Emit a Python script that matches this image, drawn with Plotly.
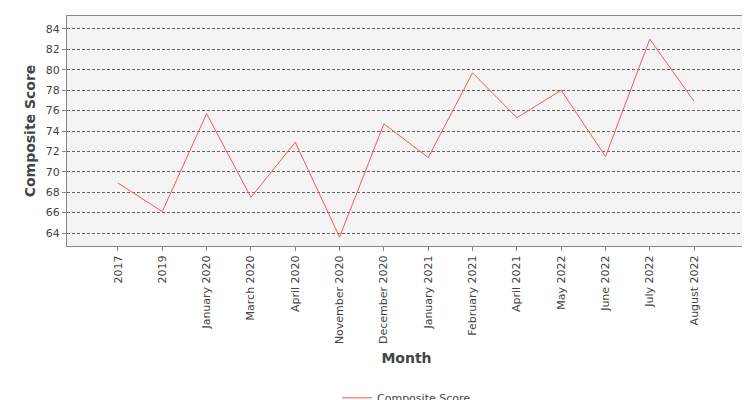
import plotly.graph_objects as go

months = ["2017", "2019", "January 2020", "March 2020", "April 2020", "November 2020",
          "December 2020", "January 2021", "February 2021", "April 2021", "May 2022",
          "June 2022", "July 2022", "August 2022"]
scores = [68.9, 66.1, 75.7, 67.5, 72.9, 63.6, 74.7, 71.4, 79.7, 75.3, 78.0, 71.5, 83.0, 76.9]

fig = go.Figure(go.Scatter(x=months, y=scores, mode="lines", name="Composite Score",
                           line=dict(color="#ff5555", width=1)))
fig.update_layout(
    width=750, height=400, margin=dict(l=59, r=12, t=8, b=162, autoexpand=False),
    paper_bgcolor="white", plot_bgcolor="#f4f4f4",
    font=dict(family="DejaVu Sans", size=11, color="#444"),
    showlegend=True,
    legend=dict(orientation="h", x=0.5, xanchor="center", y=-0.66, yanchor="middle",
                font=dict(size=11), itemwidth=30),
)
fig.update_xaxes(type="category", range=[-1.15, 14.17], tickangle=-90, showgrid=False,
                 ticks="outside", ticklen=4, tickcolor="#888", automargin=False,
                 title=dict(text="<b>Month</b>", font=dict(size=14, color="#444"), standoff=10),
                 showline=True, linecolor="#888", mirror=True, tickfont=dict(size=11))
fig.update_yaxes(range=[62.73, 85.27], dtick=2, showgrid=True, gridcolor="#666",
                 griddash="3px,2px", gridwidth=0.5, ticks="outside", ticklen=4, tickcolor="#888",
                 automargin=False,
                 title=dict(text="<b>Composite Score</b>", font=dict(size=14, color="#444"), standoff=6),
                 showline=True, linecolor="#888", mirror=True, zeroline=False, tickfont=dict(size=11))
fig.write_html("out.html")
